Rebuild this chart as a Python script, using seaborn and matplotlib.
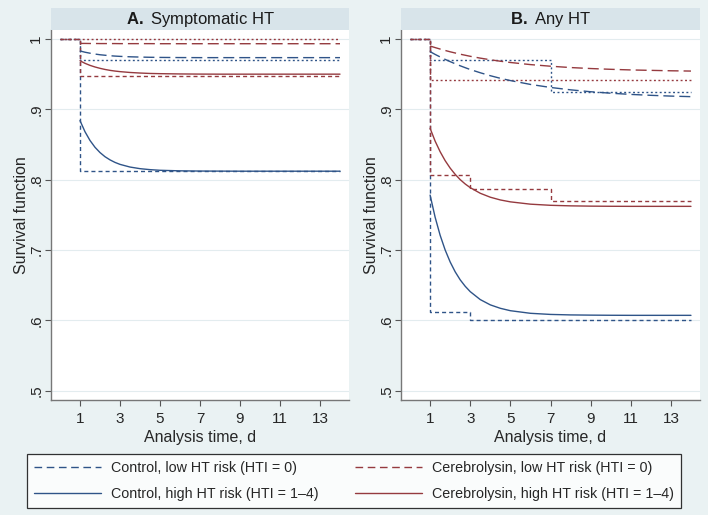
import matplotlib
matplotlib.use("Agg")
import matplotlib.pyplot as plt
import seaborn as sns
from matplotlib.lines import Line2D
from matplotlib.patches import Rectangle

fit_days = [1, 1.25, 1.5, 1.75, 2, 2.25, 2.5, 2.75, 3, 3.5, 4, 4.5, 5,
            6, 7, 8, 9, 10, 11, 12, 13, 14]

# Panel A: symptomatic HT, fitted survival
a_ctrl_low_fit = [0.983, 0.9812, 0.9798, 0.9786, 0.9776, 0.9769, 0.9762, 0.9757, 0.9753,
                  0.9747, 0.9743, 0.9740, 0.9738, 0.9736, 0.9735, 0.9735, 0.9735, 0.9735,
                  0.9735, 0.9735, 0.9735, 0.9735]
a_cere_low_fit = [0.9937, 0.9937, 0.9936, 0.9936, 0.9935, 0.9935, 0.9935, 0.9935, 0.9934,
                  0.9934, 0.9934, 0.9934, 0.9933, 0.9933, 0.9933, 0.9933, 0.9933, 0.9933,
                  0.9933, 0.9933, 0.9933, 0.9933]
a_ctrl_high_fit = [0.884, 0.8681, 0.8557, 0.8460, 0.8385, 0.8326, 0.8281, 0.8245, 0.8217,
                   0.8179, 0.8156, 0.8142, 0.8133, 0.8125, 0.8122, 0.8121, 0.812, 0.812,
                   0.812, 0.812, 0.812, 0.812]
a_cere_high_fit = [0.969, 0.9654, 0.9625, 0.9602, 0.9583, 0.9567, 0.9554, 0.9544, 0.9536,
                   0.9524, 0.9516, 0.9510, 0.9507, 0.9503, 0.9501, 0.950, 0.950, 0.950,
                   0.950, 0.950, 0.950, 0.950]

# Panel A: Kaplan-Meier steps
a_ctrl_low_km_t, a_ctrl_low_km = [0, 1, 14], [1, 0.970, 0.970]
a_cere_low_km_t, a_cere_low_km = [0, 14], [1, 1]
a_ctrl_high_km_t, a_ctrl_high_km = [0, 1, 14], [1, 0.812, 0.812]
a_cere_high_km_t, a_cere_high_km = [0, 1, 14], [1, 0.947, 0.947]

# Panel B: any HT, fitted survival
b_ctrl_low_fit = [0.982, 0.9781, 0.9745, 0.9710, 0.9678, 0.9648, 0.9619, 0.9592, 0.9566,
                  0.9520, 0.9478, 0.9441, 0.9409, 0.9354, 0.9311, 0.9277, 0.9250, 0.9229,
                  0.9212, 0.9199, 0.9188, 0.9180]
b_cere_low_fit = [0.990, 0.9878, 0.9857, 0.9837, 0.9818, 0.9801, 0.9784, 0.9769, 0.9754,
                  0.9728, 0.9705, 0.9684, 0.9666, 0.9636, 0.9613, 0.9594, 0.9580, 0.9569,
                  0.9560, 0.9554, 0.9548, 0.9544]
b_ctrl_high_fit = [0.778, 0.7466, 0.7209, 0.7000, 0.6829, 0.6689, 0.6575, 0.6483, 0.6407,
                   0.6294, 0.6219, 0.6170, 0.6136, 0.6099, 0.6083, 0.6076, 0.6073, 0.6071,
                   0.607, 0.607, 0.607, 0.607]
b_cere_high_fit = [0.873, 0.8548, 0.8397, 0.8270, 0.8164, 0.8075, 0.8000, 0.7938, 0.7886,
                   0.7806, 0.7750, 0.7711, 0.7684, 0.7651, 0.7635, 0.7627, 0.7623, 0.7621,
                   0.762, 0.762, 0.762, 0.762]

# Panel B: Kaplan-Meier steps
b_ctrl_low_km_t, b_ctrl_low_km = [0, 1, 7, 14], [1, 0.970, 0.925, 0.925]
b_cere_low_km_t, b_cere_low_km = [0, 1, 14], [1, 0.941, 0.941]
b_ctrl_high_km_t, b_ctrl_high_km = [0, 1, 3, 14], [1, 0.612, 0.600, 0.600]
b_cere_high_km_t, b_cere_high_km = [0, 1, 3, 7, 14], [1, 0.807, 0.787, 0.769, 0.769]

panel_titles = [("A.", "Symptomatic HT"), ("B.", "Any HT")]
x_ticks = [1, 3, 5, 7, 9, 11, 13]
y_ticks = [0.5, 0.6, 0.7, 0.8, 0.9, 1.0]
y_ticklabels = [".5", ".6", ".7", ".8", ".9", "1"]
legend_labels = ["Control, low HT risk (HTI = 0)", "Control, high HT risk (HTI = 1\u20134)",
                 "Cerebrolysin, low HT risk (HTI = 0)", "Cerebrolysin, high HT risk (HTI = 1\u20134)"]

BG = "#EAF2F3"
BAR = "#D8E4EA"
BLUE = "#2F5488"
RED = "#953A3F"

sns.set_theme(style="white")
plt.rcParams["font.family"] = ["Liberation Sans", "DejaVu Sans"]
plt.rcParams["lines.scale_dashes"] = False
plt.rcParams["mathtext.fontset"] = "custom"
plt.rcParams["mathtext.bf"] = "Liberation Sans:bold"
plt.rcParams["mathtext.rm"] = "Liberation Sans"

LONG = (0, (7.9, 3.6))
MED = (0, (2.9, 2.2))
DOT = (0, (1.4, 1.8))
LW = 1.0

fig = plt.figure(figsize=(7.08, 5.15), dpi=100, facecolor=BG)
axA = fig.add_axes([51 / 708, 115 / 515, 298 / 708, 370 / 515])
axB = fig.add_axes([401 / 708, 115 / 515, 299 / 708, 370 / 515])

panels = [
    (axA, [a_ctrl_low_fit, a_ctrl_high_fit, a_cere_low_fit, a_cere_high_fit],
     [(a_ctrl_low_km_t, a_ctrl_low_km), (a_ctrl_high_km_t, a_ctrl_high_km),
      (a_cere_low_km_t, a_cere_low_km), (a_cere_high_km_t, a_cere_high_km)]),
    (axB, [b_ctrl_low_fit, b_ctrl_high_fit, b_cere_low_fit, b_cere_high_fit],
     [(b_ctrl_low_km_t, b_ctrl_low_km), (b_ctrl_high_km_t, b_ctrl_high_km),
      (b_cere_low_km_t, b_cere_low_km), (b_cere_high_km_t, b_cere_high_km)]),
]
colors = [BLUE, BLUE, RED, RED]
fit_styles = [LONG, "-", LONG, "-"]
km_styles = [DOT, MED, DOT, MED]

for i, (ax, fits, kms) in enumerate(panels):
    ax.set_facecolor("white")
    for y in y_ticks:
        ax.axhline(y, color="#E3ECEF", lw=0.8, zorder=0)
    for (t, s), c, ls in zip(kms, colors, km_styles):
        sns.lineplot(x=t, y=s, ax=ax, color=c, lw=LW, linestyle=ls,
                     drawstyle="steps-post", estimator=None, sort=False)
    for f, c, ls in zip(fits, colors, fit_styles):
        sns.lineplot(x=fit_days, y=f, ax=ax, color=c, lw=LW, linestyle=ls,
                     estimator=None, sort=False)

    ax.set_xlim(-0.45, 14.45)
    ax.set_ylim(0.4866, 1.0128)
    ax.set_xticks(x_ticks)
    ax.set_xticklabels([str(x) for x in x_ticks], fontsize=11)
    ax.set_yticks(y_ticks)
    ax.set_yticklabels(y_ticklabels, fontsize=11, rotation=90, va="center")
    ax.tick_params(axis="both", direction="out", length=4, width=0.8, color="#555555",
                   left=True, bottom=True)
    ax.tick_params(axis="y", pad=1.5)
    ax.tick_params(axis="x", pad=4.5)
    for side in ["top", "right"]:
        ax.spines[side].set_visible(False)
    for side in ["left", "bottom"]:
        ax.spines[side].set_color("#777777")
        ax.spines[side].set_linewidth(1.0)
    ax.set_xlabel("Analysis time, d", fontsize=11.5, labelpad=3)
    ax.set_ylabel("Survival function", fontsize=11.5, labelpad=0.5)

    ax.add_patch(Rectangle((0, 1.0), 1, 22 / 370, transform=ax.transAxes,
                           facecolor=BAR, edgecolor="none", clip_on=False, zorder=3))
    bold, rest = panel_titles[i]
    ax.text(0.5, 1.0 + 11 / 370, r"$\bf{" + bold + r"}$ " + rest,
            transform=ax.transAxes, ha="center", va="center", fontsize=12,
            color="#1a1a1a", zorder=4)

handles = [Line2D([], [], color=c, lw=LW, linestyle=(0, (5.5, 3.3)) if ls == LONG else "-")
           for c, ls in zip(colors, fit_styles)]
leg = fig.legend(handles, legend_labels, ncol=2, loc="center",
                 bbox_to_anchor=(354 / 708, 1 - 481 / 515), frameon=True, fancybox=False,
                 fontsize=10.3, handlelength=4.7, handletextpad=0.7, columnspacing=2.5,
                 labelspacing=0.8, borderpad=0.5)
leg.get_frame().set_edgecolor("black")
leg.get_frame().set_linewidth(0.9)
leg.get_frame().set_facecolor("white")

fig.savefig("out.png", dpi=100, facecolor=BG)
